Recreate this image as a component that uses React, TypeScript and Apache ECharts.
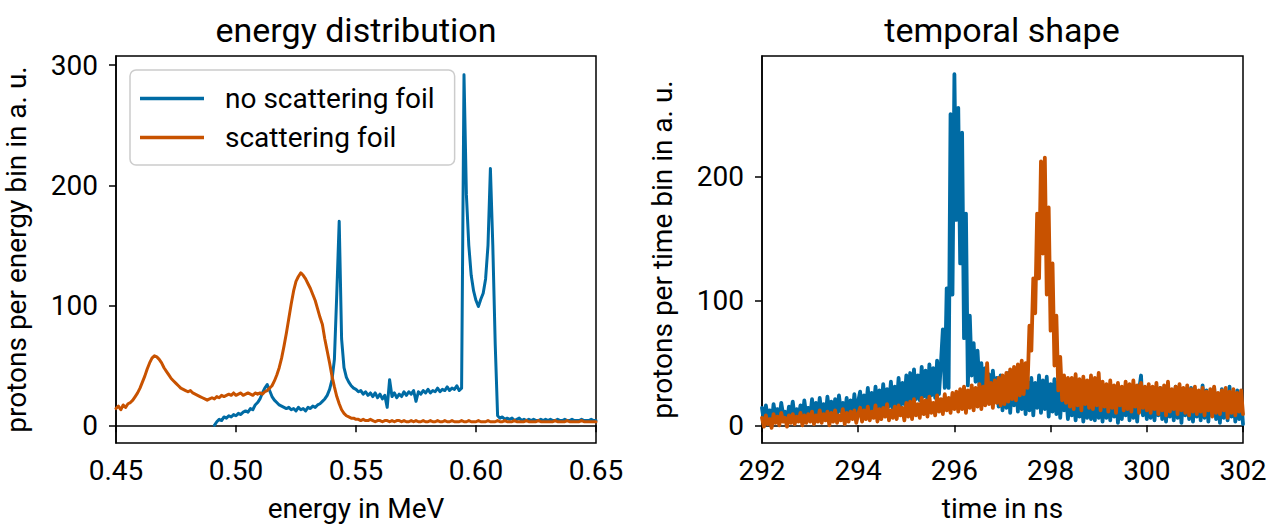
import { useEffect, useRef } from "react";
import * as echarts from "echarts";

// ---------- data ----------
const seriesNames = ["no scattering foil", "scattering foil"];

// energy distribution (MeV grid, 0.001 MeV step)
const energyStep = 0.001;
const blueEnergyStart = 0.491;
const blueEnergyCounts = [
  0, 3, 5, 4, 7, 6, 8, 7, 9,
  8, 10, 9, 11, 12, 11, 14, 13, 17, 19,
  22, 27, 31, 34, 29, 24, 21, 19, 17, 16,
  15, 14, 15, 13, 14, 12, 15, 13, 14, 12,
  15, 14, 16, 15, 17, 18, 20, 22, 25, 30,
  38, 55, 110, 170, 72, 48, 40, 36, 33, 31,
  30, 28, 29, 26, 28, 25, 27, 24, 27, 23,
  26, 22, 25, 15, 38, 24, 27, 23, 26, 24,
  28, 25, 28, 26, 29, 20, 28, 26, 29, 27,
  30, 27, 29, 28, 31, 28, 30, 29, 32, 29,
  31, 30, 33, 29, 31, 292, 192, 150, 125, 112,
  104, 99, 105, 110, 122, 150, 214, 150, 68, 8,
  6, 7, 5, 6, 5, 6, 4, 5, 6, 4,
  5, 4, 5, 4, 5, 4, 4, 5, 4, 5,
  4, 5, 4, 4, 5, 4, 4, 5, 4, 4,
  5, 4, 4, 4, 5, 4, 4, 4, 5, 4,
  4,
];
const orangeEnergyStart = 0.45;
const orangeEnergyCounts = [
  14, 16, 13, 17, 15, 18, 19, 21, 24, 27,
  31, 36, 41, 47, 52, 56, 58, 57, 55, 52,
  48, 45, 42, 39, 37, 35, 33, 31, 30, 29,
  28, 29, 27, 26, 25, 24, 23, 22, 21, 22,
  23, 22, 24, 23, 25, 24, 25, 26, 25, 27,
  25, 26, 27, 25, 26, 27, 26, 25, 27, 26,
  27, 26, 28, 29, 31, 33, 37, 42, 48, 56,
  66, 77, 89, 101, 112, 120, 124, 127, 125, 122,
  118, 114, 109, 104, 97, 90, 84, 72, 62, 52,
  41, 32, 24, 18, 13, 10, 8, 7, 6, 6,
  5, 5, 4, 5, 4, 4, 5, 4, 3, 4,
  4, 3, 4, 4, 3, 4, 3, 4, 4, 3,
  4, 3, 3, 4, 3, 4, 3, 3, 4, 3,
  3, 4, 3, 3, 4, 3, 3, 4, 3, 3,
  4, 3, 3, 3, 4, 3, 3, 4, 3, 3,
  3, 4, 3, 3, 3, 4, 3, 3, 3, 4,
  3, 3, 4, 3, 3, 3, 4, 3, 3, 3,
  3, 4, 3, 3, 3, 3, 4, 3, 3, 3,
  3, 3, 3, 4, 3, 3, 3, 3, 4, 3,
  3, 3, 3, 3, 4, 3, 3, 3, 3, 3,
  3,
];

// temporal shape (ns grid, 0.04 ns step from 292 ns)
const timeStart = 292;
const timeStep = 0.04;
const blueTimeCounts = [
  14, 3, 16, 6, 12, 1, 17, 7, 13, 4, 18, 8, 11, 2, 15, 9, 19, 5, 13, 7, 16, 4, 20, 8, 14, 6,
  21, 7, 18, 5, 22, 9, 17, 6, 23, 10, 19, 5, 21, 8, 24, 11, 18, 7, 22, 9, 20, 6, 25, 10, 19,
  27, 10, 24, 12, 30, 9, 26, 13, 31, 11, 28, 14, 33, 12, 29, 15, 35, 13, 31, 16, 38, 14, 34, 17, 40,
  19, 42, 18, 45, 21, 40, 20, 47, 23, 44, 19, 49, 24, 46, 22, 52, 25, 50, 77, 30,
  110, 30, 250, 105, 282, 165, 255, 130, 235, 70, 170, 32, 88, 40, 66, 35, 60, 32,
  50, 22, 46, 28, 41, 18, 44, 25, 38, 15, 40,
  12, 39, 14, 42, 10, 37, 16, 41, 11, 36, 13, 39, 9,
  35, 12, 38, 8, 34, 14, 40, 10, 36, 13, 39, 7, 33, 11, 37, 9, 35, 6, 30, 12,
  25, 5, 22, 8, 26, 4, 20, 7, 24, 3, 21, 6, 25, 5, 23, 4, 27, 6,
  24, 3, 28, 6, 22, 4, 30, 7, 25, 2, 27, 5, 23, 8, 29, 4, 26, 6, 24, 3, 28, 40, 8, 25, 5,
  26, 6, 29, 4, 24, 8, 30, 5, 27, 3, 25, 7, 28, 4, 31, 6, 26, 2, 29, 8, 24, 5, 30, 3, 27,
  7, 25, 4, 32, 6, 28, 3, 26, 8, 30, 5, 24, 2, 29, 6, 27, 4, 31, 7, 25, 3, 28, 5, 22, 1,
];
const orangeTimeCounts = [
  6, -1, 8, 1, 5, -2, 9, 2, 7, 0, 10, 3, 6, -1, 8, 2, 9, 1, 7, 3, 10, 0, 8, 2, 9, 3,
  11, 1, 8, 3, 12, 2, 9, 4, 11, 0, 10, 3, 12, 2, 8, 4, 13, 1, 10, 3, 11, 5, 12, 2, 9,
  14, 3, 12, 5, 15, 4, 11, 6, 16, 3, 13, 5, 14, 7, 17, 4, 12, 6, 15, 5, 16, 8, 14, 4, 18,
  7, 19, 5, 21, 8, 17, 6, 22, 9, 20, 7, 23, 10, 18, 8, 24, 11, 21, 9, 25, 12, 22, 10, 26, 13,
  27, 11, 29, 13, 31, 10, 28, 14, 32, 12, 30, 15, 33, 13, 31, 16, 50, 17, 34, 14, 36, 18, 38, 16,
  40, 17, 42, 19, 45, 21, 47, 20, 49, 24, 52,
  25, 50, 30, 80, 60, 118, 90, 170, 118, 212, 138, 215, 105, 175, 76, 130, 48, 88, 28, 55, 20, 40, 18, 38,
  15, 38, 13, 41, 16, 37, 12, 39, 17, 36, 14, 40, 13, 38, 16, 42,
  12, 35, 15, 33, 11, 36, 14, 32, 10, 34, 16, 31, 12, 35, 13, 33, 11, 36, 15, 32, 10, 34, 14, 31, 12,
  33, 10, 31, 13, 34, 9, 30, 12, 32, 8, 35, 11, 29, 13, 31, 9, 33, 12, 30, 10, 32, 8, 29, 11, 31,
  9, 28, 11, 30, 8, 27, 12, 29, 7, 31, 10, 26, 9, 28, 12, 30, 6, 27, 10, 29, 8, 26, 11, 28, 9,
];

const energyTicks = [0, 100, 200, 300];
const timeYTicks = [0, 100, 200];

// ---------- styles ----------
const FONT = "Roboto";
const BLUE = "#006BA4";
const ORANGE = "#C85200";
const FS = 28;

const toPairs = (start: number, step: number, vals: number[], digits: number) =>
  vals.map((v, i) => [+(start + i * step).toFixed(digits), v]);

const axisLineStyle = { show: true, lineStyle: { color: "#000", width: 1.5 } };
const tickStyle = (vals?: number[]) => ({
  show: true,
  length: 7,
  inside: false,
  lineStyle: { color: "#000", width: 1.5 },
  ...(vals ? { customValues: vals } : {}),
});
const nameStyle = { fontFamily: FONT, fontSize: FS, color: "#000" };

const lineSeries = (name: string, color: string, idx: number, width: number, data: number[][]) => ({
  name,
  type: "line",
  xAxisIndex: idx,
  yAxisIndex: idx,
  showSymbol: false,
  symbol: "none",
  color,
  lineStyle: { color, width, cap: "round", join: "round" },
  emphasis: { disabled: true },
  data,
});

const gridBase = {
  top: 56,
  height: 387,
  show: true,
  borderColor: "#000",
  borderWidth: 1.5,
  backgroundColor: "transparent",
  containLabel: false,
  outerBoundsMode: "none",
};

export default function App() {
  const ref = useRef<HTMLDivElement>(null);
  useEffect(() => {
    if (!ref.current) return;
    const chart = echarts.init(ref.current, undefined, { renderer: "svg" });
    const option: any = {
      animation: false,
      backgroundColor: "#fff",
      graphic: [
        {
          type: "text",
          x: 356,
          y: 30,
          style: { text: "energy distribution", fill: "#000", font: `34px ${FONT}`, textAlign: "center", textVerticalAlign: "middle" },
        },
        {
          type: "text",
          x: 1002,
          y: 30,
          style: { text: "temporal shape", fill: "#000", font: `34px ${FONT}`, textAlign: "center", textVerticalAlign: "middle" },
        },
      ],
      legend: {
        data: seriesNames,
        orient: "vertical",
        left: 130,
        top: 70,
        icon: "rect",
        itemWidth: 64,
        itemHeight: 3.5,
        itemGap: 10,
        padding: [14, 20, 13, 10],
        backgroundColor: "rgba(255,255,255,0.8)",
        borderColor: "#cccccc",
        borderWidth: 1.5,
        borderRadius: 6,
        textStyle: { fontFamily: FONT, fontSize: FS, color: "#000", lineHeight: 29, padding: [0, 0, 0, 16] },
      },
      grid: [
        { ...gridBase, left: 116, width: 480 },
        { ...gridBase, left: 762, width: 481 },
      ],
      xAxis: [
        {
          type: "value",
          gridIndex: 0,
          min: 0.45,
          max: 0.65,
          interval: 0.05,
          name: "energy in MeV",
          nameLocation: "middle",
          nameGap: 51,
          nameTextStyle: nameStyle,
          axisLine: axisLineStyle,
          axisTick: tickStyle(),
          splitLine: { show: false },
          axisLabel: {
            fontFamily: FONT,
            fontSize: FS,
            color: "#000",
            margin: 13,
            formatter: (v: number) => v.toFixed(2),
          },
        },
        {
          type: "value",
          gridIndex: 1,
          min: 292,
          max: 302,
          interval: 2,
          name: "time in ns",
          nameLocation: "middle",
          nameGap: 51,
          nameTextStyle: nameStyle,
          axisLine: axisLineStyle,
          axisTick: tickStyle(),
          splitLine: { show: false },
          axisLabel: { fontFamily: FONT, fontSize: FS, color: "#000", margin: 13 },
        },
      ],
      yAxis: [
        {
          type: "value",
          gridIndex: 0,
          min: -14.7,
          max: 307.7,
          name: "protons per energy bin in a. u.",
          nameLocation: "middle",
          nameGap: 86,
          nameTextStyle: nameStyle,
          axisLine: axisLineStyle,
          axisTick: tickStyle(energyTicks),
          splitLine: { show: false },
          axisLabel: { fontFamily: FONT, fontSize: FS, color: "#000", margin: 18, customValues: energyTicks },
        },
        {
          type: "value",
          gridIndex: 1,
          min: -14.2,
          max: 296.6,
          name: "protons per time bin in a. u.",
          nameLocation: "middle",
          nameGap: 86,
          nameTextStyle: nameStyle,
          axisLine: axisLineStyle,
          axisTick: tickStyle(timeYTicks),
          splitLine: { show: false },
          axisLabel: { fontFamily: FONT, fontSize: FS, color: "#000", margin: 18, customValues: timeYTicks },
        },
      ],
      series: [
        lineSeries(seriesNames[0], BLUE, 0, 3, toPairs(blueEnergyStart, energyStep, blueEnergyCounts, 3)),
        lineSeries(seriesNames[1], ORANGE, 0, 3, toPairs(orangeEnergyStart, energyStep, orangeEnergyCounts, 3)),
        lineSeries(seriesNames[0], BLUE, 1, 3.8, toPairs(timeStart, timeStep, blueTimeCounts, 2)),
        lineSeries(seriesNames[1], ORANGE, 1, 3.8, toPairs(timeStart, timeStep, orangeTimeCounts, 2)),
      ],
    };
    chart.setOption(option);
    return () => chart.dispose();
  }, []);
  return (
    <div
      ref={ref}
      style={{ position: "fixed", left: 0, top: 0, width: 1282, height: 526, background: "#fff" }}
    />
  );
}
